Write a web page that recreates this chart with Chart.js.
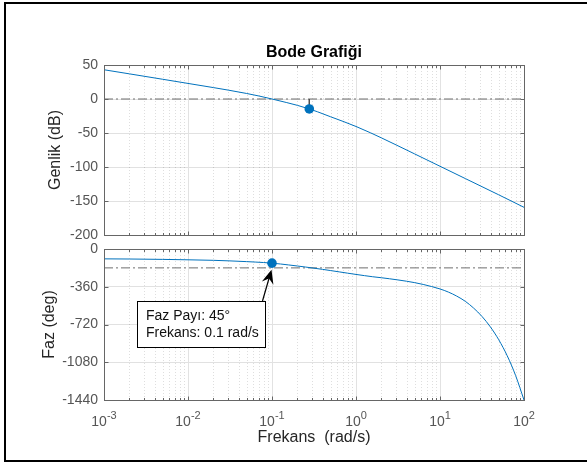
<!DOCTYPE html>
<html>
<head>
<meta charset="utf-8">
<title>Bode Grafiği</title>
<script src="https://cdn.jsdelivr.net/npm/chart.js@4.4.1/dist/chart.umd.min.js"></script>
<style>
  html, body { margin:0; padding:0; background:#fff; overflow:hidden; }
  #fig { position:relative; width:587px; height:464px; overflow:hidden; background:#fff; }
  #frame { position:absolute; left:4px; top:2px; width:600px; height:460px; box-sizing:border-box; border:2px solid #000; }
  canvas { position:absolute; left:0; top:0; }
</style>
</head>
<body>
<div id="fig">
  <div id="frame"></div>
  <canvas id="mag" width="587" height="464"></canvas>
  <canvas id="phase" width="587" height="464"></canvas>
</div>
<script>
const FONT = "'Liberation Sans', Arial, Helvetica, sans-serif";
Chart.defaults.font.family = FONT;

// ---- data ----
const xMin = 0.001, xMax = 100;
const xTickExponents = [-3, -2, -1, 0, 1, 2];
const magTicks = [50, 0, -50, -100, -150, -200];
const phaseTicks = [0, -360, -720, -1080, -1440];

const magFreq = [0.001, 0.002, 0.005, 0.01, 0.02, 0.03, 0.05, 0.07, 0.1, 0.15, 0.2, 0.278, 0.35, 0.5, 0.7, 1, 1.5, 2, 3, 5, 7, 10, 20, 50, 100];
const magDb   = [43.0, 37.0, 29.0, 22.9, 16.8, 13.1, 8.1, 4.4, 0, -5.3, -9.3, -14.6, -18.9, -26.2, -32.9, -40.4, -49.9, -57.1, -67.5, -80.8, -89.6, -98.9, -117.0, -140.9, -159.3];

const phaseFreq = [0.001, 0.002, 0.005, 0.01, 0.02, 0.0316, 0.05, 0.0631, 0.0794, 0.1, 0.126, 0.158, 0.2, 0.251, 0.316, 0.398, 0.501, 0.631, 0.794, 1, 1.26, 1.58, 2, 2.51, 3.16, 3.98, 5.01, 6.31, 7.94, 10, 12.6, 15.8, 20, 25.1, 31.6, 39.8, 50.1, 63.1, 79.4, 100];
const phaseDeg  = [-94, -95.5, -99, -103, -108, -113.5, -120.5, -124.5, -129, -135, -143, -152, -162, -172, -183, -194, -206, -218, -230.5, -242.5, -254, -264.5, -274, -284, -295, -307, -321, -338, -358, -381, -411, -449, -499, -563, -643, -743, -866, -1018, -1206, -1440];

const gmFreq = 0.278, gmDb = -14.6;     // gain-margin marker
const pmFreq = 0.1, pmPhase = -135;     // phase-margin marker
const magRef = 0, phaseRef = -180;      // reference lines
const annotationLines = ['Faz Payı: 45°', 'Frekans: 0.1 rad/s'];
const titleText = 'Bode Grafiği';
const magLabel = 'Genlik (dB)', phaseLabel = 'Faz (deg)', freqLabel = 'Frekans  (rad/s)';

// ---- styles ----
const LINE = '#0072BD';
const REF = '#6e6e6e';
const pts = (xs, ys) => xs.map((v, i) => ({x: v, y: ys[i]}));

const matlabAxes = {
  id: 'matlabAxes',
  beforeDatasetsDraw(chart) {
    const {ctx, chartArea: a} = chart; const x = chart.scales.x;
    ctx.save();
    ctx.lineWidth = 1;
    ctx.strokeStyle = 'rgba(0,0,0,0.13)';
    ctx.setLineDash([1, 2]);
    for (let e = xTickExponents[0]; e < xTickExponents[xTickExponents.length - 1]; e++) {
      for (let m = 2; m <= 9; m++) {
        const px = Math.round(x.getPixelForValue(m * Math.pow(10, e))) + 0.5;
        ctx.beginPath(); ctx.moveTo(px, a.top); ctx.lineTo(px, a.bottom); ctx.stroke();
      }
    }
    ctx.setLineDash([]);
    ctx.strokeStyle = '#e2e2e2';
    xTickExponents.forEach(e => {
      const px = Math.round(x.getPixelForValue(Math.pow(10, e))) + 0.5;
      ctx.beginPath(); ctx.moveTo(px, a.top); ctx.lineTo(px, a.bottom); ctx.stroke();
    });
    ctx.restore();
  },
  afterDatasetsDraw(chart) {
    const {ctx, chartArea: a} = chart; const x = chart.scales.x, y = chart.scales.y;
    const L = Math.floor(a.left) + 0.5, R = Math.floor(a.right) + 0.5;
    const T = Math.floor(a.top) + 0.5, B = Math.floor(a.bottom) + 0.5;
    ctx.save();
    ctx.strokeStyle = '#666'; ctx.lineWidth = 1;
    const major = 4, minor = 2.5;
    ctx.beginPath();
    xTickExponents.forEach(e => {
      const px = Math.round(x.getPixelForValue(Math.pow(10, e))) + 0.5;
      ctx.moveTo(px, T); ctx.lineTo(px, T + major);
      ctx.moveTo(px, B); ctx.lineTo(px, B - major);
    });
    for (let e = xTickExponents[0]; e < xTickExponents[xTickExponents.length - 1]; e++) {
      for (let m = 2; m <= 9; m++) {
        const px = Math.round(x.getPixelForValue(m * Math.pow(10, e))) + 0.5;
        ctx.moveTo(px, T); ctx.lineTo(px, T + minor);
        ctx.moveTo(px, B); ctx.lineTo(px, B - minor);
      }
    }
    y.ticks.forEach(t => {
      const py = Math.round(y.getPixelForValue(t.value)) + 0.5;
      ctx.moveTo(L, py); ctx.lineTo(L + major, py);
      ctx.moveTo(R, py); ctx.lineTo(R - major, py);
    });
    ctx.stroke();
    ctx.strokeRect(L, T, R - L, B - T);
    ctx.restore();
  }
};

const xLabels = {
  id: 'xLabels',
  afterDraw(chart) {
    const {ctx, chartArea: a} = chart; const x = chart.scales.x;
    ctx.save();
    ctx.fillStyle = '#555'; ctx.textAlign = 'left'; ctx.textBaseline = 'alphabetic';
    xTickExponents.forEach(e => {
      const px = x.getPixelForValue(Math.pow(10, e));
      const base = '10', sup = String(e);
      ctx.font = '14px ' + FONT; const wb = ctx.measureText(base).width;
      ctx.font = '11px ' + FONT; const ws = ctx.measureText(sup).width;
      const x0 = px - (wb + ws) / 2;
      ctx.font = '14px ' + FONT; ctx.fillText(base, x0, a.bottom + 25.5);
      ctx.font = '11px ' + FONT; ctx.fillText(sup, x0 + wb, a.bottom + 18.5);
    });
    ctx.restore();
  }
};

const annotation = {
  id: 'annotation',
  afterDraw(chart) {
    const {ctx, chartArea: a} = chart; const x = chart.scales.x, y = chart.scales.y;
    const mx = x.getPixelForValue(pmFreq), my = y.getPixelForValue(pmPhase);
    const bx = Math.round(a.left + 33) + 0.5, by = 301.5, bw = 128, bh = 46;
    ctx.save();
    ctx.fillStyle = '#fff'; ctx.fillRect(bx, by, bw, bh);
    ctx.strokeStyle = '#000'; ctx.lineWidth = 1; ctx.strokeRect(bx, by, bw, bh);
    ctx.fillStyle = '#111'; ctx.font = '14px ' + FONT; ctx.textAlign = 'left'; ctx.textBaseline = 'alphabetic';
    ctx.fillText(annotationLines[0], bx + 8.5, by + 18.5);
    ctx.fillText(annotationLines[1], bx + 8.5, by + 35.5);
    // arrow
    const tip = {x: mx - 0.5, y: my + 6.5};
    const tail = {x: mx - 9.5, y: by - 0.5};
    const dx = tip.x - tail.x, dy = tip.y - tail.y, len = Math.hypot(dx, dy);
    const ux = dx / len, uy = dy / len, nx = -uy, ny = ux;
    const HL = 14, HW = 6;
    ctx.strokeStyle = '#000'; ctx.lineWidth = 1.2;
    ctx.beginPath(); ctx.moveTo(tail.x, tail.y); ctx.lineTo(tip.x - ux * HL * 0.6, tip.y - uy * HL * 0.6); ctx.stroke();
    ctx.fillStyle = '#000';
    ctx.beginPath();
    ctx.moveTo(tip.x, tip.y);
    ctx.lineTo(tip.x - ux * HL + nx * HW, tip.y - uy * HL + ny * HW);
    ctx.lineTo(tip.x - ux * HL * 0.65, tip.y - uy * HL * 0.65);
    ctx.lineTo(tip.x - ux * HL - nx * HW, tip.y - uy * HL - ny * HW);
    ctx.closePath(); ctx.fill();
    ctx.restore();
  }
};

const common = {
  responsive: false, animation: false, devicePixelRatio: 1, events: [],
};

function yAxis(min, max, ticksArr, label, titlePad) {
  return {
    type: 'linear', min: min, max: max,
    afterBuildTicks: s => { s.ticks = ticksArr.map(v => ({value: v})); },
    afterFit: s => { s.width = 104; },
    grid: {color: '#e1e1e1', drawTicks: false, lineWidth: 1},
    border: {display: false},
    ticks: {padding: 6, color: '#555', font: {size: 14}, callback: v => String(v)},
    title: {display: true, text: label, color: '#262626', font: {size: 16}, padding: {top: titlePad, bottom: 0}}
  };
}

new Chart(document.getElementById('mag'), {
  type: 'line',
  data: {
    datasets: [
      {data: [{x: gmFreq, y: gmDb}], showLine: false, pointRadius: 4.8, pointBackgroundColor: LINE, pointBorderColor: LINE, pointBorderWidth: 0, order: 0},
      {data: pts(magFreq, magDb), borderColor: LINE, borderWidth: 1, pointRadius: 0, cubicInterpolationMode: 'monotone', fill: false, order: 1},
      {data: [{x: gmFreq, y: magRef}, {x: gmFreq, y: gmDb}], borderColor: '#4d4d4d', borderWidth: 1, pointRadius: 0, order: 2},
      {data: [{x: xMin, y: magRef}, {x: xMax, y: magRef}], borderColor: REF, borderWidth: 1, borderDash: [9, 3, 2, 3], pointRadius: 0, order: 3}
    ]
  },
  options: Object.assign({}, common, {
    layout: {padding: {left: 0, right: 63, top: 0, bottom: 229}},
    plugins: {
      legend: {display: false}, tooltip: {enabled: false},
      title: {display: true, text: titleText, fullSize: false, color: '#000', font: {size: 16, weight: 'bold', lineHeight: 1}, padding: {top: 44.5, bottom: 4.5}}
    },
    scales: {
      x: {type: 'logarithmic', min: xMin, max: xMax, display: false},
      y: yAxis(-200, 50, magTicks, magLabel, 45.7)
    }
  }),
  plugins: [matlabAxes]
});

new Chart(document.getElementById('phase'), {
  type: 'line',
  data: {
    datasets: [
      {data: [{x: pmFreq, y: pmPhase}], showLine: false, pointRadius: 4.8, pointBackgroundColor: LINE, pointBorderColor: LINE, pointBorderWidth: 0, order: 0},
      {data: pts(phaseFreq, phaseDeg), borderColor: LINE, borderWidth: 1, pointRadius: 0, cubicInterpolationMode: 'monotone', fill: false, order: 1},
      {data: [{x: xMin, y: phaseRef}, {x: xMax, y: phaseRef}], borderColor: REF, borderWidth: 1, borderDash: [9, 3, 2, 3], pointRadius: 0, order: 3}
    ]
  },
  options: Object.assign({}, common, {
    layout: {padding: {left: 0, right: 63, top: 249, bottom: 0}},
    plugins: {legend: {display: false}, tooltip: {enabled: false}, title: {display: false}},
    scales: {
      x: {
        type: 'logarithmic', min: xMin, max: xMax,
        afterFit: s => { s.height = 64; },
        ticks: {display: false}, grid: {display: false}, border: {display: false},
        title: {display: true, text: freqLabel, color: '#262626', font: {size: 16}, padding: {top: 0, bottom: 16.9}}
      },
      y: yAxis(-1440, 0, phaseTicks, phaseLabel, 39.7)
    }
  }),
  plugins: [matlabAxes, xLabels, annotation]
});
</script>
</body>
</html>
